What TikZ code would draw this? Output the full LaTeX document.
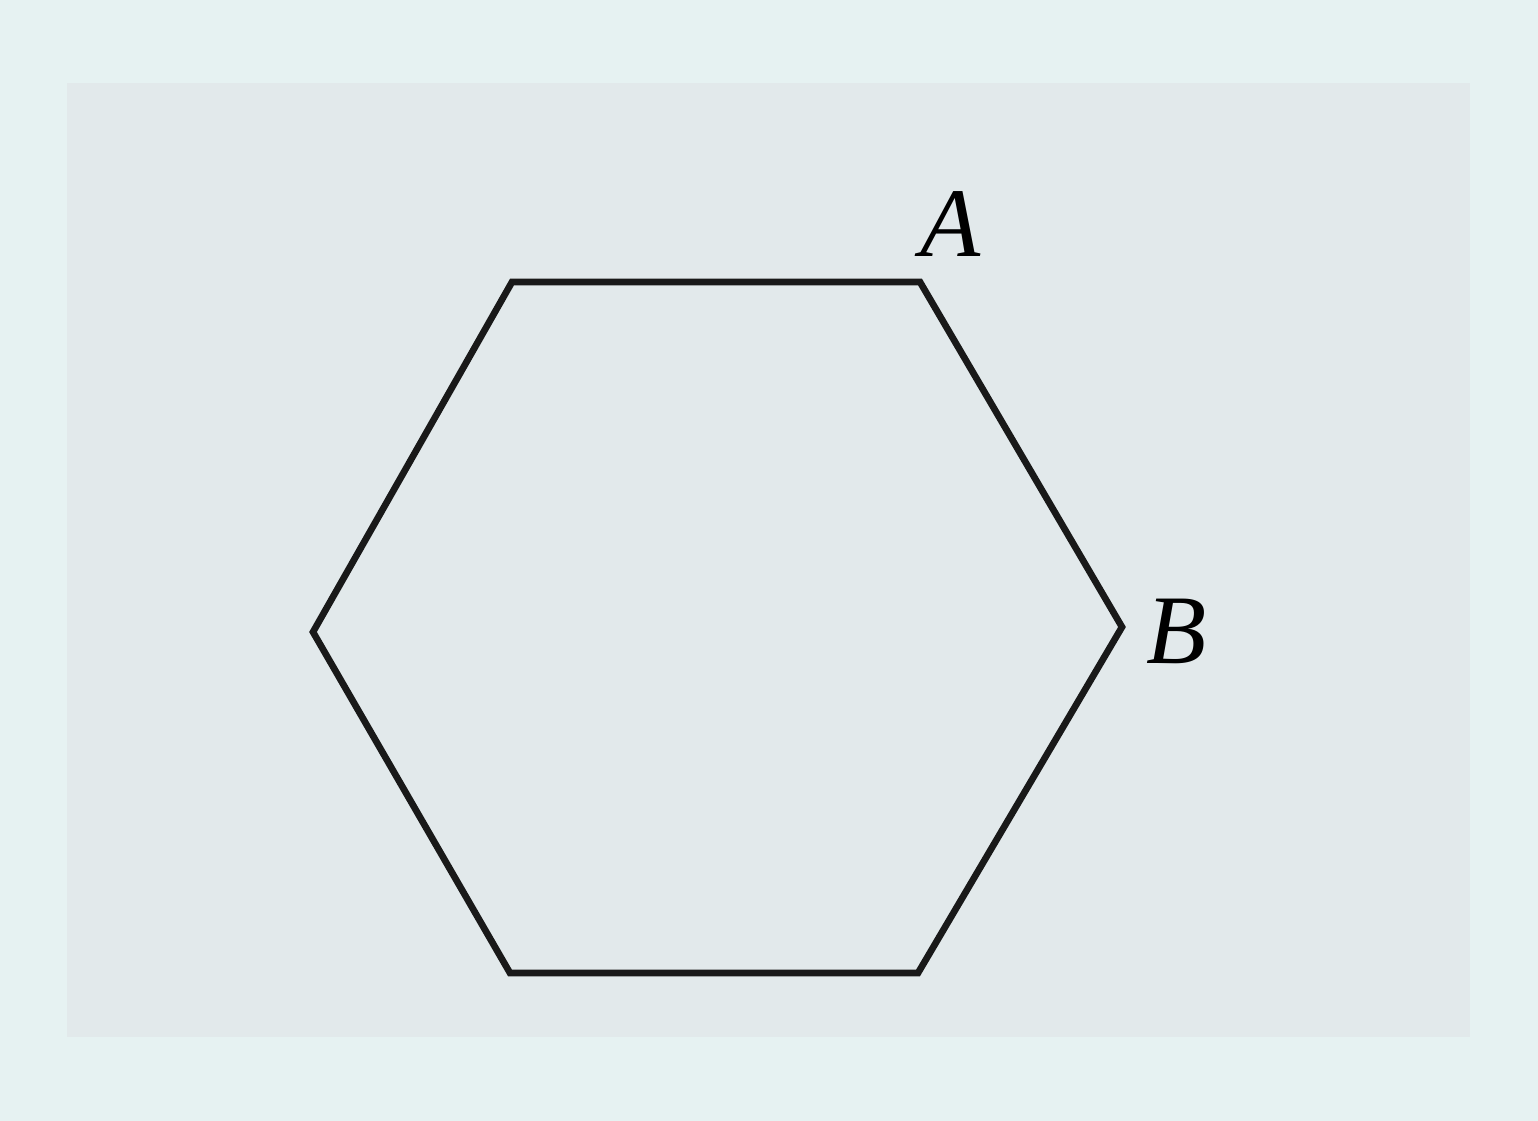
\documentclass[tikz,border=0pt]{standalone}
\usepackage{fontspec}
\setmainfont{Liberation Serif}
\usepackage{xcolor}
\definecolor{outerbg}{HTML}{E6F2F2}
\definecolor{innerbg}{HTML}{E2E9EB}
\begin{document}
\begin{tikzpicture}[x=0.02cm,y=-0.02cm,
  edge/.style={line width=3.8pt, line join=miter, black!90},
  lbl/.style={inner sep=0pt, font=\fontsize{56}{64}\selectfont\itshape}]
\fill[outerbg] (0,0) rectangle (1538,1121);
\useasboundingbox (0,0) rectangle (1538,1121);
\fill[innerbg] (67,83) rectangle (1470,1037);
\coordinate (p1) at (512,282);
\coordinate (p2) at (920,282);
\coordinate (p3) at (1122,627);
\coordinate (p4) at (918,973);
\coordinate (p5) at (510,973);
\coordinate (p6) at (313,632);
\draw[edge] (p1) -- (p2) -- (p3) -- (p4) -- (p5) -- (p6) -- cycle;
\node[lbl, anchor=base] (A) at (951,257) {A};
\node[lbl, anchor=base] (B) at (1177,663) {B};
\end{tikzpicture}
\end{document}
